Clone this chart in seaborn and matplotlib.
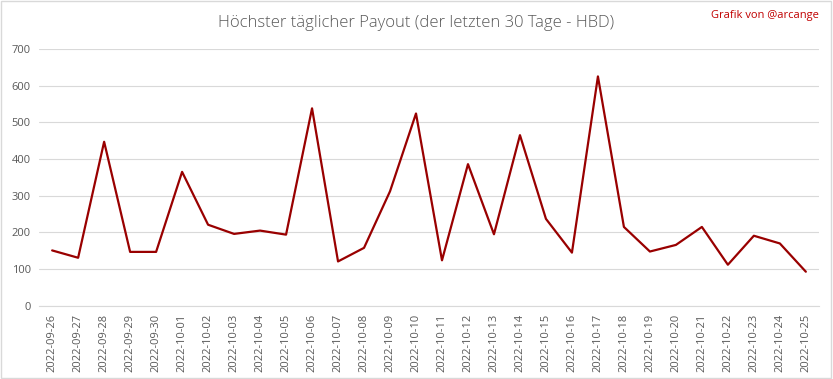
import pandas as pd
import seaborn as sns
import matplotlib.pyplot as plt

# Tageswerte (HBD)
dates = ["2022-09-26", "2022-09-27", "2022-09-28", "2022-09-29", "2022-09-30",
         "2022-10-01", "2022-10-02", "2022-10-03", "2022-10-04", "2022-10-05",
         "2022-10-06", "2022-10-07", "2022-10-08", "2022-10-09", "2022-10-10",
         "2022-10-11", "2022-10-12", "2022-10-13", "2022-10-14", "2022-10-15",
         "2022-10-16", "2022-10-17", "2022-10-18", "2022-10-19", "2022-10-20",
         "2022-10-21", "2022-10-22", "2022-10-23", "2022-10-24", "2022-10-25"]
payout = [151, 131, 447, 147, 147, 365, 221, 196, 205, 194,
          538, 121, 158, 312, 524, 124, 386, 195, 465, 237,
          145, 625, 215, 148, 166, 215, 112, 191, 170, 93]
y_ticks = [0, 100, 200, 300, 400, 500, 600, 700]

df = pd.DataFrame({"Datum": dates, "Payout": payout})

sns.set_theme(style="white")
plt.rcParams['font.family'] = ['Open Sans', 'DejaVu Sans']

fig = plt.figure(figsize=(8.33, 3.79), dpi=100)
ax = fig.add_axes([0.047, 0.193, 0.936, 0.678])

sns.lineplot(data=df, x="Datum", y="Payout", sort=False, color="#990000",
             linewidth=1.6, ax=ax)

ax.set_xlim(-0.5, len(dates) - 0.5)
ax.set_ylim(0, 700)
ax.set_yticks(y_ticks)
ax.yaxis.grid(True, color="#d9d9d9", linewidth=0.8)
ax.set_axisbelow(True)
for s in ["top", "right", "left"]:
    ax.spines[s].set_visible(False)
ax.spines["bottom"].set_color("#d9d9d9")
ax.spines["bottom"].set_linewidth(0.8)
ax.set_xticks(range(len(dates)))
ax.set_xticklabels(dates, rotation=90)
ax.tick_params(axis="both", length=0, labelsize=8, labelcolor="#595959", pad=6)
ax.set_xlabel("")
ax.set_ylabel("")

fig.text(0.5, 0.94, "Höchster täglicher Payout (der letzten 30 Tage - HBD)",
         ha="center", va="center", fontsize=12, color="#595959", fontweight="light")
fig.text(0.983, 0.96, "Grafik von @arcange", ha="right", va="center",
         fontsize=8, color="#c00000")

# Rahmen um die Grafik
fig.patches.append(plt.Rectangle((0.001, 0.002), 0.997, 0.995, transform=fig.transFigure,
                                 fill=False, edgecolor="#d9d9d9", linewidth=1))

fig.savefig("out.png", dpi=100)
